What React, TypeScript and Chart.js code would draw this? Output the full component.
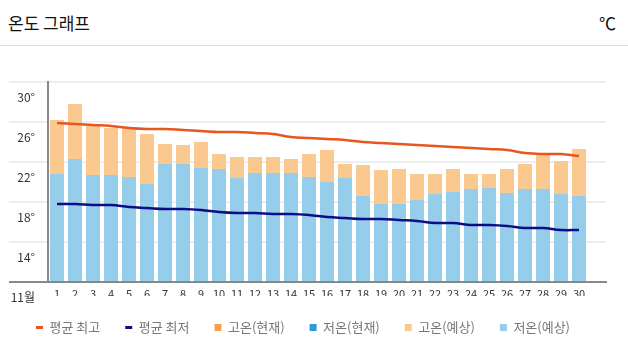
import React, { useEffect, useRef } from 'react';
import { Chart, registerables } from 'chart.js';

Chart.register(...registerables);

const FONT = "'Noto Sans CJK KR', 'Noto Sans', sans-serif";

const TITLE = '온도 그래프';
const UNIT = '℃';
const MONTH_LABEL = '11월';
const DAYS = ['1','2','3','4','5','6','7','8','9','10','11','12','13','14','15','16','17','18','19','20','21','22','23','24','25','26','27','28','29','30'];

const AVG_HIGH = [25.9,25.8,25.7,25.6,25.4,25.3,25.3,25.2,25.1,25.0,25.0,24.9,24.8,24.5,24.4,24.3,24.2,24.0,23.9,23.8,23.7,23.6,23.5,23.4,23.3,23.2,22.9,22.8,22.8,22.6];
const AVG_LOW = [17.8,17.8,17.7,17.7,17.5,17.4,17.3,17.3,17.2,17.0,16.9,16.9,16.8,16.8,16.7,16.5,16.4,16.3,16.3,16.2,16.1,15.9,15.9,15.7,15.7,15.6,15.4,15.4,15.2,15.2];
const HIGH_NOW: (number | null)[] = [];
const LOW_NOW: (number | null)[] = [];
const HIGH_FCST = [26.2,27.8,25.6,25.4,25.4,24.8,23.8,23.7,24.0,22.8,22.5,22.5,22.5,22.3,22.8,23.2,21.8,21.7,21.2,21.3,20.8,20.8,21.3,20.8,20.8,21.3,21.8,22.8,22.1,23.3];
const LOW_FCST = [20.8,22.3,20.7,20.7,20.5,19.8,21.8,21.8,21.4,21.3,20.4,20.9,20.9,20.9,20.5,20.0,20.4,18.6,17.8,17.8,18.2,18.8,19.0,19.3,19.4,18.9,19.3,19.3,18.8,18.6];

const Y_MIN = 10;
const Y_MAX = 30;
const Y_STEP = 4;

const SERIES_LABELS = ['평균 최고', '평균 최저', '고온(현재)', '저온(현재)', '고온(예상)', '저온(예상)'];

export default function App() {
  const ref = useRef<HTMLCanvasElement>(null);

  useEffect(() => {
    document.body.style.margin = '0';
    document.body.style.overflow = 'hidden';
    const labels = [...DAYS, ''];
    const chart = new Chart(ref.current as HTMLCanvasElement, {
      type: 'bar',
      data: {
        labels,
        datasets: [
          { type: 'line', label: SERIES_LABELS[0], data: AVG_HIGH, borderColor: '#e8561f', backgroundColor: '#e8561f', borderWidth: 2.5, pointRadius: 0, tension: 0.4, order: 0 } as any,
          { type: 'line', label: SERIES_LABELS[1], data: AVG_LOW, borderColor: '#0c0c85', backgroundColor: '#0c0c85', borderWidth: 2.5, pointRadius: 0, tension: 0.4, order: 0 } as any,
          { label: SERIES_LABELS[2], data: HIGH_NOW, backgroundColor: '#f7a04e', order: 2, base: Y_MIN } as any,
          { label: SERIES_LABELS[3], data: LOW_NOW, backgroundColor: '#2f9ad2', order: 1, base: Y_MIN } as any,
          { label: SERIES_LABELS[4], data: HIGH_FCST, backgroundColor: '#f9c98f', order: 2, base: Y_MIN } as any,
          { label: SERIES_LABELS[5], data: LOW_FCST, backgroundColor: '#96cdea', order: 1, base: Y_MIN } as any,
        ],
      },
      options: {
        responsive: false,
        animation: false,
        font: { family: FONT } as any,
        layout: { padding: { top: 36, right: 22, left: 0, bottom: 0 } },
        datasets: { bar: { categoryPercentage: 0.78, barPercentage: 1, borderWidth: 0 } } as any,
        scales: {
          x: {
            stacked: true,
            offset: true,
            z: 1,
            grid: { display: false, drawTicks: false },
            border: { display: true, color: '#888', width: 2 },
            ticks: { autoSkip: false, maxRotation: 0, padding: 5, color: '#333', font: { size: 11, family: FONT } },
            afterFit: (s: any) => { s.height = 14; },
          } as any,
          y: {
            min: Y_MIN,
            max: Y_MAX,
            stacked: false,
            border: { display: true, color: '#888', width: 2 },
            grid: {
              drawTicks: true,
              tickLength: 39,
              color: (c: any) => (c.tick && c.tick.value === Y_MIN ? '#888' : '#efefef'),
              lineWidth: 2,
              tickColor: (c: any) => (c.tick && c.tick.value === Y_MIN ? '#888' : '#efefef'),
              tickWidth: 2,
            },
            ticks: {
              stepSize: Y_STEP,
              padding: -26,
              labelOffset: 15,
              color: '#333',
              font: { size: 12, family: FONT },
              callback: (v: any) => (Number(v) === Y_MIN ? MONTH_LABEL : v + '°'),
            },
            afterFit: (s: any) => { s.width = 48; },
          } as any,
        },
        plugins: {
          tooltip: { enabled: false },
          legend: {
            position: 'bottom',
            labels: {
              usePointStyle: true,
              pointStyleWidth: 7,
              boxWidth: 7,
              boxHeight: 7,
              padding: 25,
              color: '#777',
              font: { size: 13, family: FONT },
              generateLabels: (ch: any) =>
                ch.data.datasets.map((ds: any, i: number) => {
                  const isLine = ds.type === 'line';
                  const col = isLine ? ds.borderColor : ds.backgroundColor;
                  return {
                    text: ds.label,
                    fillStyle: col,
                    strokeStyle: col,
                    lineWidth: isLine ? 3 : 0,
                    pointStyle: isLine ? 'line' : 'rect',
                    datasetIndex: i,
                    hidden: false,
                    fontColor: '#777',
                  };
                }),
            },
          },
        },
      } as any,
    });
    return () => chart.destroy();
  }, []);

  return (
    <div style={{ width: 628, fontFamily: FONT }}>
      <div
        style={{
          height: 45,
          borderBottom: '1px solid #ddd',
          display: 'flex',
          alignItems: 'center',
          justifyContent: 'space-between',
          padding: '0 12px 0 8px',
          fontSize: 17,
          color: '#111',
        }}
      >
        <span>{TITLE}</span>
        <span>{UNIT}</span>
      </div>
      <div style={{ height: 305, overflow: 'hidden' }}>
        <canvas ref={ref} width={628} height={298} style={{ display: 'block' }} />
      </div>
    </div>
  );
}
